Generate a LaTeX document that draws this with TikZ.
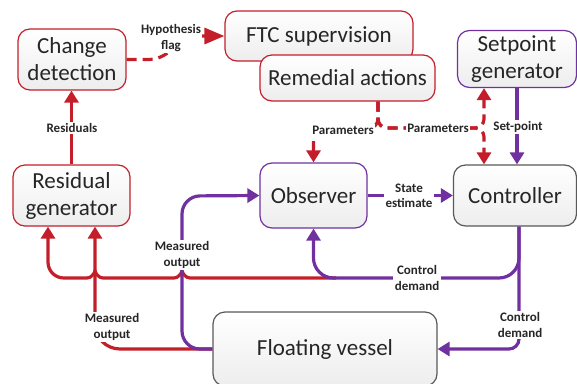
\documentclass[tikz,border=0pt]{standalone}
\usepackage{fontspec}
\setmainfont{Carlito}
\usetikzlibrary{arrows.meta,calc}
\definecolor{fred}{HTML}{C41E2A}
\definecolor{fpur}{HTML}{7030A0}
\definecolor{fgray}{HTML}{595959}
\definecolor{ftext}{HTML}{262626}
\tikzset{
  box/.style={draw, rounded corners=12pt, line width=1.2pt, top color=white, bottom color=black!7,
    text=ftext, font=\fontsize{23}{27}\selectfont, align=center, inner sep=0pt},
  redbox/.style={box, draw=fred},
  purbox/.style={box, draw=fpur},
  graybox/.style={box, draw=fgray},
  conn/.style={line width=3.2pt, -{Triangle[width=14pt,length=12pt]}},
  rc/.style={conn, draw=fred},
  pc/.style={conn, draw=fpur},
  dashpat/.style={dash pattern=on 10pt off 6pt},
  lab/.style={fill=white, text=ftext, font=\bfseries\fontsize{13}{15.5}\selectfont, align=center, inner sep=1.5pt}
}
\begin{document}
\begin{tikzpicture}[x=1pt,y=-1pt]
\useasboundingbox (0,0) rectangle (577,383);
% boxes
\node[redbox, minimum width=188pt, minimum height=50pt] (ftc) at (319,36) {FTC supervision};
\node[redbox, minimum width=175pt, minimum height=46pt] (rem) at (347.5,78) {Remedial actions};
\node[redbox, minimum width=108pt, minimum height=61pt] (chg) at (72,59.5) {Change\\detection};
\node[purbox, minimum width=119pt, minimum height=57pt] (setp) at (517,59) {Setpoint\\generator};
\node[redbox, minimum width=117pt, minimum height=61pt] (resg) at (71.5,195.5) {Residual\\generator};
\node[purbox, minimum width=107pt, minimum height=65pt] (obs) at (313.5,195.5) {Observer};
\node[graybox, minimum width=123pt, minimum height=61pt] (ctrl) at (515,195.5) {Controller};
\node[graybox, minimum width=224pt, minimum height=74pt] (ves) at (325,349) {Floating vessel};

% helper coordinates
\coordinate (pstart) at ($(rem.south)+(30.5,0)$);
\coordinate (pj) at (484,128);
\coordinate (cdx) at ($(ctrl.south)+(4,0)$);
\coordinate (cdy) at (313.5,278);
\coordinate (mx) at (95,278);
\coordinate (mpx) at (182,196);
\coordinate (rx) at (48,278);

% Residuals
\draw[rc] (resg.north) -- (resg.north |- chg.south);
% Hypothesis flag
\draw[rc, dashpat, -{Triangle[width=16pt,length=20pt]}] (chg.east) -- ++(22,0) to[out=0,in=180] ($(ftc.west)+(-24,0)$) -- (ftc.west);
% Parameters
\draw[rc, dashpat, rounded corners=9pt] (pstart) |- (pj) -- (setp.south -| pj);
\draw[rc, dashpat, rounded corners=9pt] (pstart) |- (pj) -- (ctrl.north -| pj);
\draw[rc, dashpat, rounded corners=9pt] (pstart) |- (obs.north |- pj) -- (obs.north);

% red measured output
\draw[rc, rounded corners=25pt] (ves.west) -| (resg.south -| mx);
% red control demand to residual generator
\draw[rc] (336,278) -- (190,278) .. controls (186,278) and (183,274) .. (182,271)
  .. controls (181,274) and (178,278) .. (174,278) -- (103,278)
  .. controls (99,278) and (96,274) .. (95,271)
  .. controls (94,274) and (91,278) .. (87,278) -- (64,278)
  .. controls (55,278) and (48,271) .. (48,262) -- (resg.south -| rx);

% purple
\draw[pc] (setp.south) -- (setp.south |- ctrl.north);
\draw[pc] (obs.east) -- (obs.east -| ctrl.west);
\draw[pc, rounded corners=10pt] (cdx) |- (ves.east);
\draw[pc, rounded corners=20pt] (cdx) |- (cdy) -- (obs.south);
\draw[pc, rounded corners=18pt] (ves.west) -| (mpx) -- (obs.west);

% labels
\node[lab] at (72,128) {Residuals};
\node[lab] at (171,38) {Hypothesis\\flag};
\node[lab] at (343,130) {Parameters};
\node[lab] at (438,128) {Parameters};
\node[lab] at (518,127) {Set-point};
\node[lab] at (409,196) {State\\estimate};
\node[lab] at (520,325) {Control\\demand};
\node[lab] at (417,278) {Control\\demand};
\node[lab] at (112,327) {Measured\\output};
\node[lab] at (182,255) {Measured\\output};
\end{tikzpicture}
\end{document}
